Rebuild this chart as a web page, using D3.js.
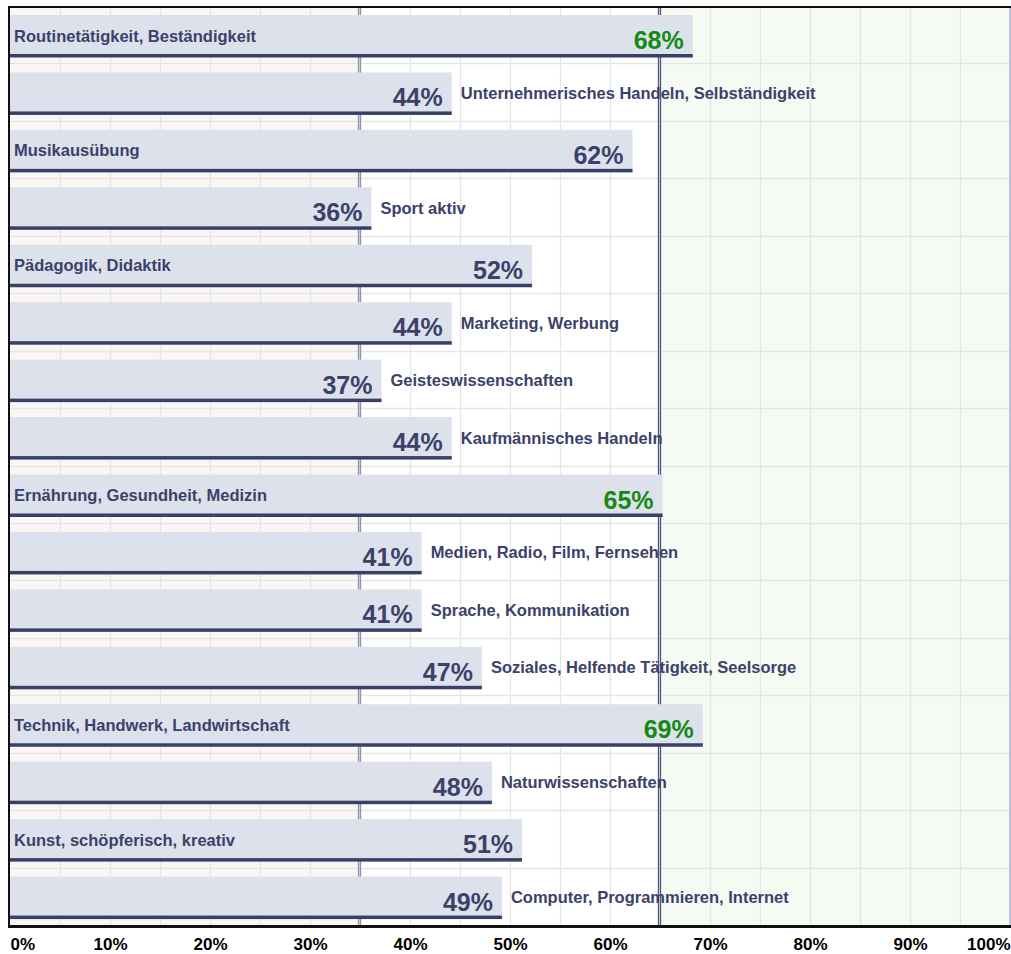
<!DOCTYPE html>
<html>
<head>
<meta charset="utf-8">
<script src="https://cdn.jsdelivr.net/npm/d3@7"></script>
<style>
  html, body { margin: 0; padding: 0; background: #fff; }
  svg { display: block; font-family: Arial, "Liberation Sans", Helvetica, sans-serif; }
</style>
</head>
<body>
<div id="chart"></div>
<script>
// Interessenprofil — horizontal bar chart, one row per area

const categories = [
  'Routinetätigkeit, Beständigkeit',
  'Unternehmerisches Handeln, Selbständigkeit',
  'Musikausübung',
  'Sport aktiv',
  'Pädagogik, Didaktik',
  'Marketing, Werbung',
  'Geisteswissenschaften',
  'Kaufmännisches Handeln',
  'Ernährung, Gesundheit, Medizin',
  'Medien, Radio, Film, Fernsehen',
  'Sprache, Kommunikation',
  'Soziales, Helfende Tätigkeit, Seelsorge',
  'Technik, Handwerk, Landwirtschaft',
  'Naturwissenschaften',
  'Kunst, schöpferisch, kreativ',
  'Computer, Programmieren, Internet'
];
const values = [68, 44, 62, 36, 52, 44, 37, 44, 65, 41, 41, 47, 69, 48, 51, 49];
const tickValues = [0, 10, 20, 30, 40, 50, 60, 70, 80, 90, 100];
const lowLimit = 35;   // pink zone below
const highLimit = 65;  // green zone above, green labels

const width = 1011;
const height = 954;
const margin = { left: 10, right: 1, top: 6, bottom: 29 };

const svg = d3.select('#chart')
  .append('svg')
  .attr('width', width)
  .attr('height', height);

// Scales (grid/axis scale, bars run a touch longer like the original)
const x = d3.scaleLinear()
  .domain([0, 100])
  .range([margin.left, width - margin.right]);

const xBar = d3.scaleLinear()
  .domain([0, 100])
  .range([margin.left, width - margin.right + 4]);

const y = d3.scaleBand()
  .domain(categories)
  .range([margin.top, height - margin.bottom]);

const plotTop = margin.top;
const plotBottom = height - margin.bottom;

// Zone backgrounds
svg.append('rect')
  .attr('x', x(0)).attr('y', plotTop)
  .attr('width', x(lowLimit) - x(0)).attr('height', plotBottom - plotTop)
  .attr('fill', '#faf6f4');
svg.append('rect')
  .attr('x', x(highLimit)).attr('y', plotTop)
  .attr('width', x(100) - x(highLimit)).attr('height', plotBottom - plotTop)
  .attr('fill', '#f5faf3');

// Grid: vertical every 5%, horizontal at row borders
svg.append('g')
  .selectAll('line')
  .data(d3.range(5, 100, 5))
  .enter()
  .append('line')
  .attr('x1', d => x(d) + 0.5).attr('x2', d => x(d) + 0.5)
  .attr('y1', plotTop).attr('y2', plotBottom)
  .attr('stroke', '#e6e6e6')
  .attr('stroke-width', 1.3);

svg.append('g')
  .selectAll('line')
  .data(categories.slice(1))
  .enter()
  .append('line')
  .attr('x1', x(0)).attr('x2', x(100))
  .attr('y1', d => Math.round(y(d)) + 0.5).attr('y2', d => Math.round(y(d)) + 0.5)
  .attr('stroke', '#e6e6e6')
  .attr('stroke-width', 1.3);

// Limit lines (double lines, drawn under the bars)
[[lowLimit, '#8e94ae'], [highLimit, '#50567e']].forEach(([v, c]) => {
  const xv = Math.round(x(v)) - 0.5;
  svg.append('line')
    .attr('x1', xv - 1).attr('x2', xv - 1)
    .attr('y1', plotTop).attr('y2', plotBottom)
    .attr('stroke', c).attr('stroke-width', 1.3);
  svg.append('line')
    .attr('x1', xv + 1).attr('x2', xv + 1)
    .attr('y1', plotTop).attr('y2', plotBottom)
    .attr('stroke', c).attr('stroke-width', 1.3);
  svg.append('line')
    .attr('x1', xv).attr('x2', xv)
    .attr('y1', plotTop).attr('y2', plotBottom)
    .attr('stroke', '#c4c7d4').attr('stroke-width', 0.8);
});

// Bars
const rows = svg.selectAll('g.row')
  .data(categories.map((c, i) => ({ cat: c, val: values[i] })))
  .enter()
  .append('g')
  .attr('class', 'row');

rows.append('rect')
  .attr('x', xBar(0))
  .attr('y', d => y(d.cat) + 9)
  .attr('width', d => xBar(d.val) - xBar(0))
  .attr('height', 42)
  .attr('fill', '#dde1ec');

rows.append('rect')
  .attr('x', xBar(0))
  .attr('y', d => y(d.cat) + 48)
  .attr('width', d => xBar(d.val) - xBar(0))
  .attr('height', 3.5)
  .attr('fill', '#394068');

// Value labels inside the bar end
rows.append('text')
  .attr('x', d => xBar(d.val) - 9)
  .attr('y', d => y(d.cat) + 43)
  .attr('text-anchor', 'end')
  .attr('font-size', 25)
  .attr('font-weight', 'bold')
  .attr('fill', d => d.val >= highLimit ? '#138a13' : '#3b4169')
  .text(d => d.val + '%');

// Category labels: inside left for long bars, right of bar otherwise
rows.append('text')
  .attr('x', d => d.val > 50 ? x(0) + 4 : xBar(d.val) + 9)
  .attr('y', d => y(d.cat) + 35.5)
  .attr('font-size', 16.5)
  .attr('font-weight', 'bold')
  .attr('fill', '#3b4169')
  .text(d => d.cat);

// Frame
svg.append('line')
  .attr('x1', x(0) - 1).attr('x2', width)
  .attr('y1', plotTop + 1).attr('y2', plotTop + 1)
  .attr('stroke', '#111').attr('stroke-width', 2);
svg.append('line')
  .attr('x1', x(0) - 1).attr('x2', x(0) - 1)
  .attr('y1', plotTop).attr('y2', plotBottom)
  .attr('stroke', '#111').attr('stroke-width', 2);
svg.append('line')
  .attr('x1', x(100)).attr('x2', x(100))
  .attr('y1', plotTop + 2).attr('y2', plotBottom)
  .attr('stroke', '#8a90b0').attr('stroke-width', 1);

// X axis
const xAxis = d3.axisBottom(x)
  .tickValues(tickValues)
  .tickSize(0)
  .tickPadding(0)
  .tickFormat(d => d + '%');

const ax = svg.append('g')
  .attr('transform', `translate(0,${plotBottom})`)
  .call(xAxis);

ax.select('.domain')
  .attr('stroke', '#111')
  .attr('stroke-width', 3)
  .attr('d', `M${x(0) - 2},1.5H${width}`);

ax.selectAll('text')
  .attr('y', 25)
  .attr('dy', null)
  .attr('font-size', 17)
  .attr('font-weight', 'bold')
  .attr('font-family', 'Arial, "Liberation Sans", Helvetica, sans-serif')
  .attr('fill', '#000')
  .attr('text-anchor', (d, i) => i === 0 ? 'start' : (i === tickValues.length - 1 ? 'end' : 'middle'));
</script>
</body>
</html>
